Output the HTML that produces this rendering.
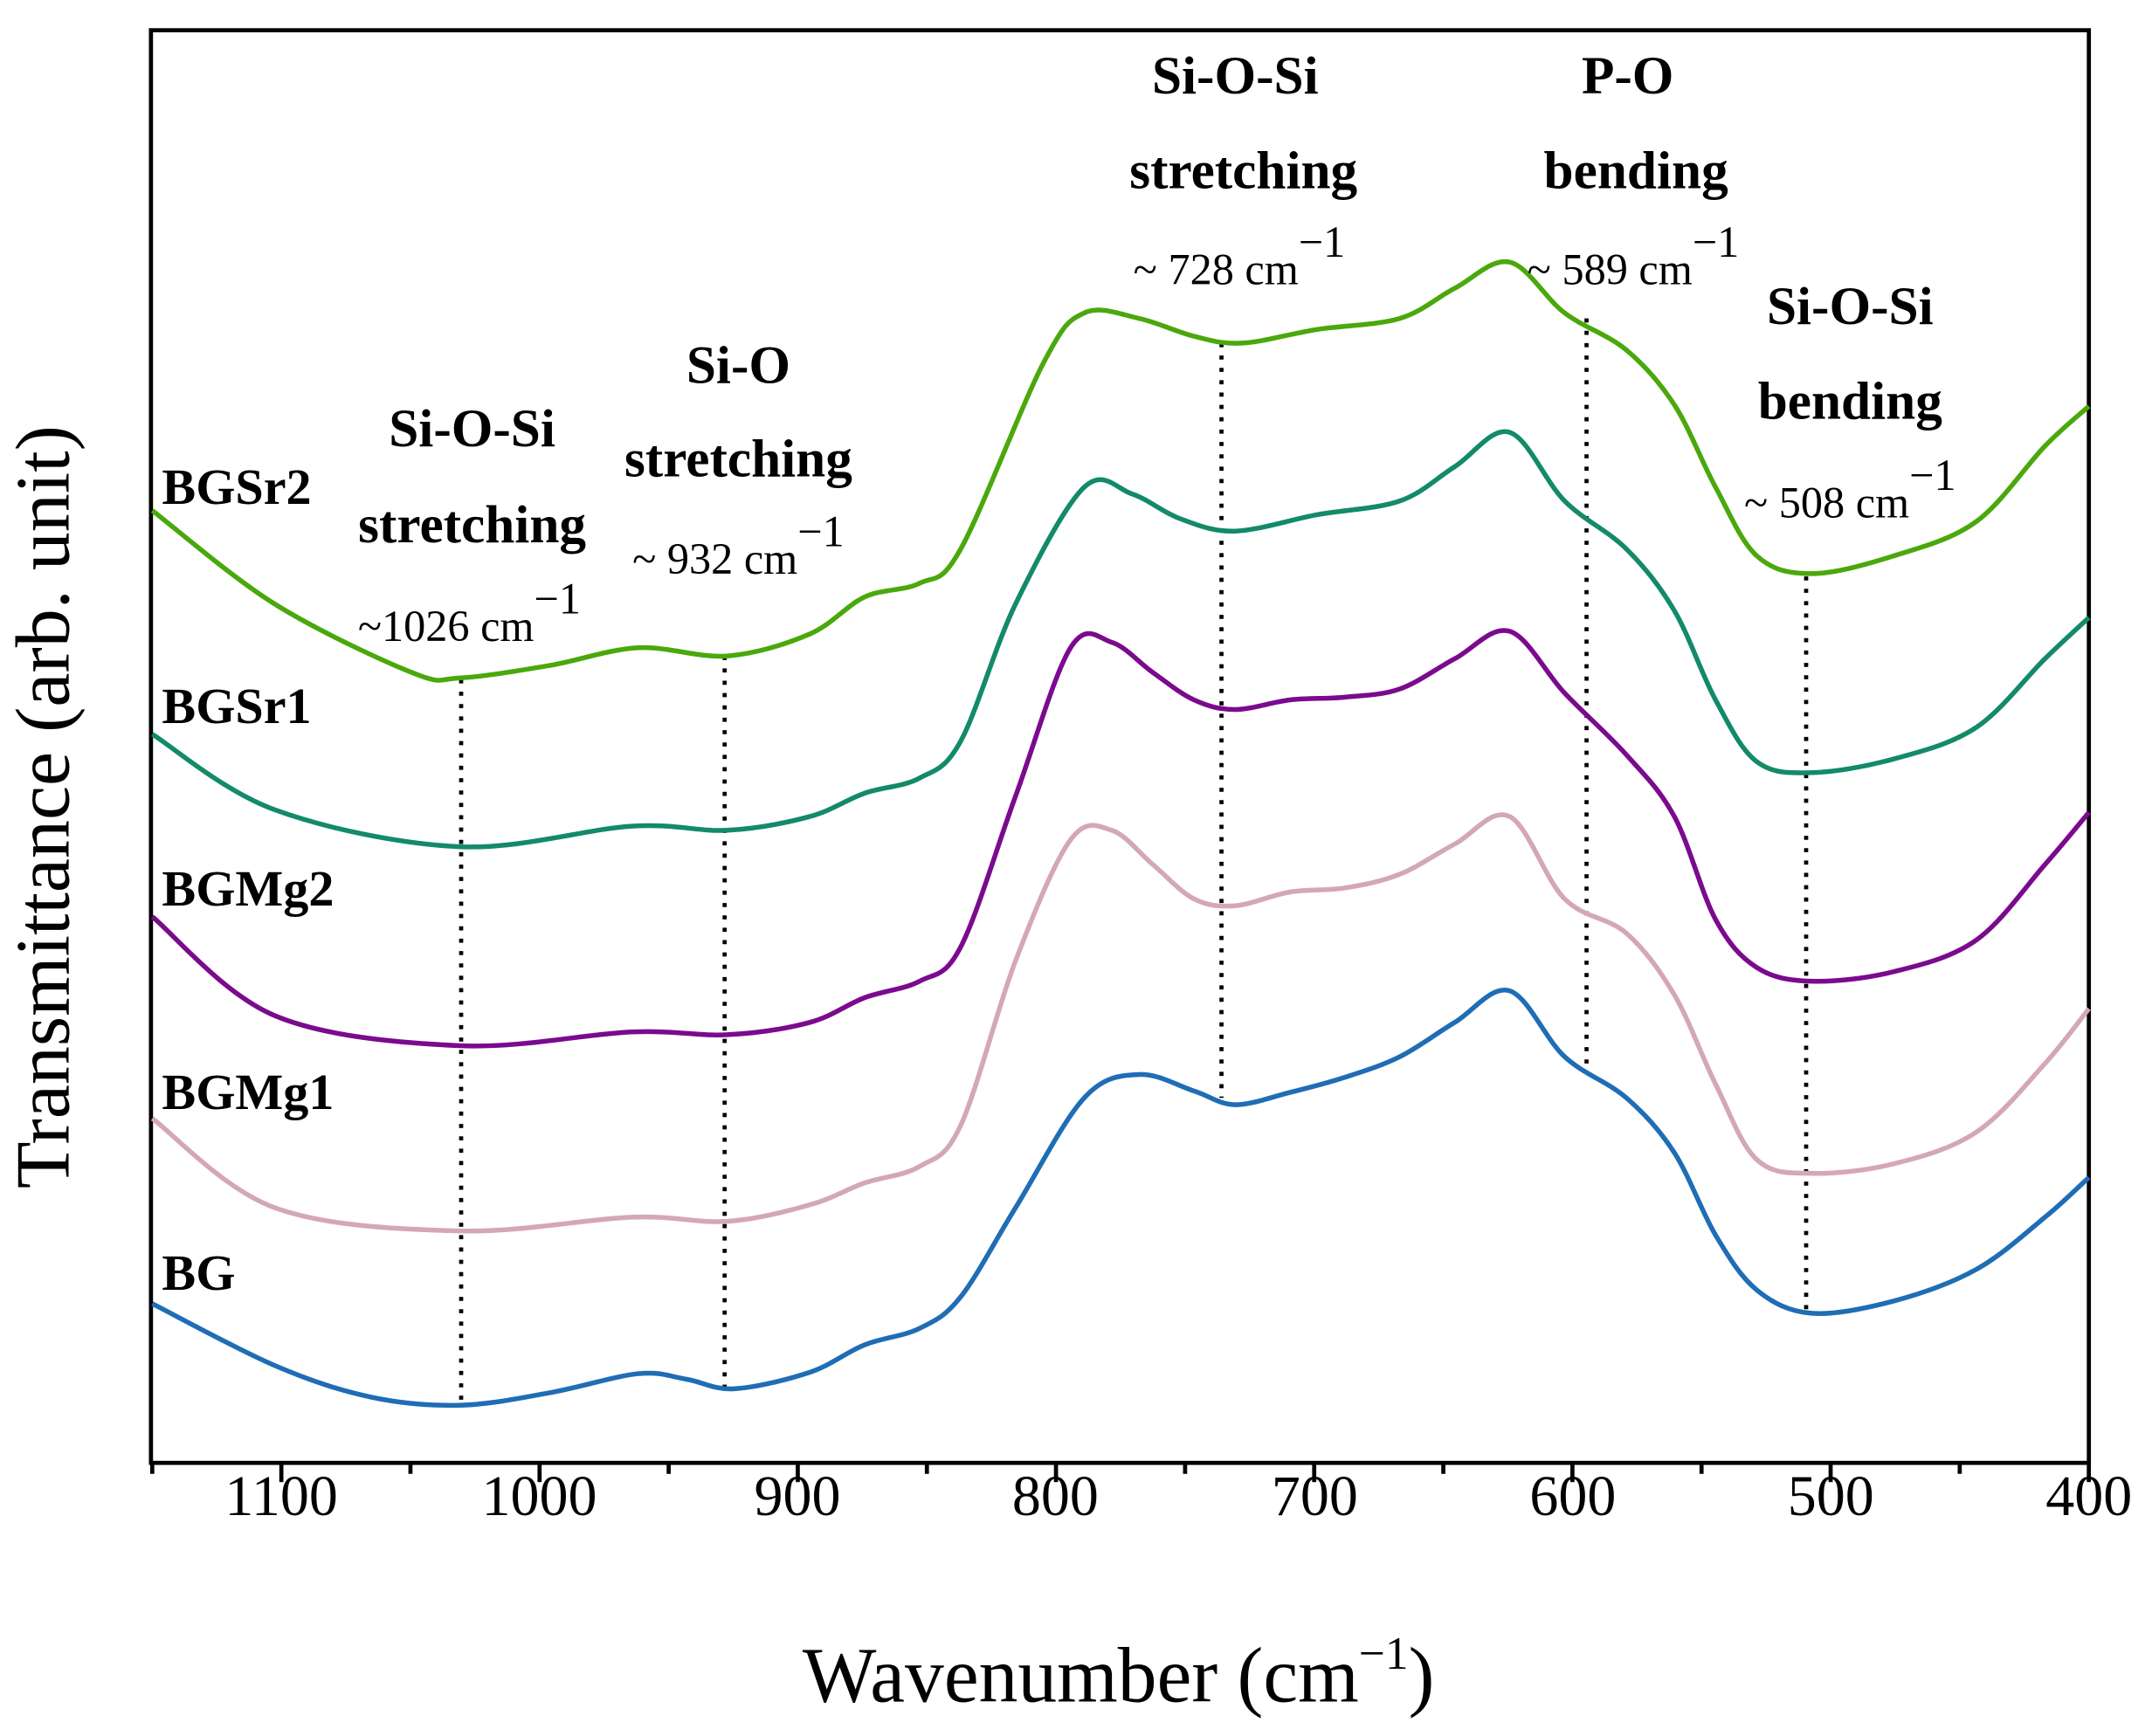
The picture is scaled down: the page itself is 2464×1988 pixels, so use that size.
<!DOCTYPE html>
<html><head><meta charset="utf-8"><style>html,body{margin:0;padding:0;background:#fff}svg{display:block}</style></head>
<body>
<svg id="s" width="2464" height="1988" viewBox="0 0 1568 1265" xmlns="http://www.w3.org/2000/svg" font-family="'Liberation Serif',serif">
<rect x="110" y="22" width="1412" height="1044" fill="none" stroke="#000" stroke-width="3"/>
<g id="ticks" stroke="#000" stroke-width="3"></g>
<g font-size="42" text-anchor="middle" fill="#000">
<text x="205" y="1104">1100</text><text x="393" y="1104">1000</text><text x="581" y="1104">900</text><text x="769" y="1104">800</text><text x="958" y="1104">700</text><text x="1146" y="1104">600</text><text x="1334" y="1104">500</text><text x="1522" y="1104">400</text>
</g>
<text x="815" y="1240" font-size="57" text-anchor="middle">Wavenumber (cm<tspan font-size="34" dy="-24">−1</tspan><tspan dy="24">)</tspan></text>
<text transform="translate(50,588) rotate(-90)" font-size="56" text-anchor="middle">Transmittance (arb. unit)</text>
<g stroke="#000" stroke-width="3" stroke-dasharray="3,6">
<line x1="336" y1="495" x2="336" y2="1024"/><line x1="528" y1="478" x2="528" y2="1012"/>
<line x1="890" y1="250" x2="890" y2="800"/><line x1="1156" y1="232" x2="1156" y2="778"/>
<line x1="1316" y1="420" x2="1316" y2="955"/>
</g>
<g id="curves" fill="none" stroke-width="3.5" stroke-linejoin="round"></g>
<g font-size="37" font-weight="bold">
<text x="118" y="367">BGSr2</text><text x="118" y="527">BGSr1</text><text x="118" y="660">BGMg2</text><text x="118" y="808">BGMg1</text><text x="118" y="940">BG</text>
</g>
<g font-size="39" font-weight="bold" text-anchor="middle">
<text x="344" y="325">Si-O-Si</text><text x="344" y="395">stretching</text>
<text x="538" y="279">Si-O</text><text x="538" y="347">stretching</text>
<text x="900" y="68">Si-O-Si</text><text x="906" y="137">stretching</text>
<text x="1186" y="68">P-O</text><text x="1192" y="137">bending</text>
<text x="1348" y="236">Si-O-Si</text><text x="1348" y="305">bending</text>
</g>
<g font-size="32" text-anchor="middle">
<text x="342" y="467">~1026 cm<tspan dy="-20">−1</tspan></text>
<text x="538" y="418">~ 932 cm<tspan dy="-20">−1</tspan></text>
<text x="903" y="207">~ 728 cm<tspan dy="-20">−1</tspan></text>
<text x="1190" y="207">~ 589 cm<tspan dy="-20">−1</tspan></text>
<text x="1348" y="377">~ 508 cm<tspan dy="-20">−1</tspan></text>
</g>
</svg>
<script>
var NS="http://www.w3.org/2000/svg";
var tg=document.getElementById('ticks');
for(var w=1150;w>=400;w-=50){var x=205+(1100-w)*1.8814;var major=(w%100==0);
var l=document.createElementNS(NS,'line');l.setAttribute('x1',x);l.setAttribute('x2',x);l.setAttribute('y1',1066);l.setAttribute('y2',1066+(major?14:8));tg.appendChild(l);}
function path(p){var d="M"+p[0][0]+","+p[0][1];for(var i=0;i<p.length-1;i++){var p0=p[i-1]||p[i],p1=p[i],p2=p[i+1],p3=p[i+2]||p2;
d+=" C"+(p1[0]+(p2[0]-p0[0])/6)+","+(p1[1]+(p2[1]-p0[1])/6)+" "+(p2[0]-(p3[0]-p1[0])/6)+","+(p2[1]-(p3[1]-p1[1])/6)+" "+p2[0]+","+p2[1];}return d;}
var C=[
["#1f6db5",[[111,950],[200,995],[270,1018],[335,1024],[400,1015],[465,1001],[500,1005],[535,1012],[590,1000],[630,980],[670,968],[700,945],[740,880],[790,800],[830,783],[870,795],[900,805],[940,796],[980,785],[1020,770],[1060,745],[1100,722],[1140,770],[1185,800],[1220,840],[1250,900],[1280,940],[1320,957],[1380,948],[1440,925],[1490,887],[1522,858]]],
["#d4a7b8",[[111,815],[200,880],[335,897],[460,887],[530,890],[590,878],[630,862],[670,850],[700,820],[740,700],[780,612],[810,605],[840,630],[870,655],[900,660],[940,650],[980,647],[1020,637],[1060,615],[1100,595],[1140,655],[1185,680],[1220,725],[1250,790],[1280,845],[1320,855],[1380,848],[1440,825],[1490,775],[1522,735]]],
["#7b0a8e",[[111,668],[200,740],[335,762],[460,752],[530,754],[590,745],[630,727],[670,715],[700,690],[740,580],[780,472],[810,468],[840,490],[870,510],[900,517],[940,510],[980,508],[1020,502],[1060,480],[1100,460],[1140,505],[1185,550],[1220,595],[1250,670],[1280,705],[1320,715],[1380,708],[1440,685],[1490,630],[1522,592]]],
["#138a6a",[[111,535],[200,590],[335,617],[460,602],[530,605],[590,595],[630,578],[670,567],[700,540],[740,440],[790,355],[825,360],[860,378],[900,387],[960,375],[1020,365],[1060,340],[1100,315],[1140,365],[1185,400],[1220,445],[1250,510],[1280,555],[1320,563],[1380,553],[1440,530],[1490,480],[1522,450]]],
["#4aa80c",[[111,372],[200,440],[300,490],[335,494],[400,485],[465,472],[530,478],[590,462],[630,435],[670,425],[700,400],[760,265],[790,228],[830,232],[870,245],[905,250],[960,240],[1020,232],[1060,210],[1100,191],[1140,228],[1185,255],[1220,295],[1250,355],[1280,405],[1320,418],[1380,405],[1440,380],[1490,325],[1522,296]]]];
var cg=document.getElementById('curves');
C.forEach(function(c){var e=document.createElementNS(NS,'path');e.setAttribute('d',path(c[1]));e.setAttribute('stroke',c[0]);cg.appendChild(e);});
</script>
</body></html>
